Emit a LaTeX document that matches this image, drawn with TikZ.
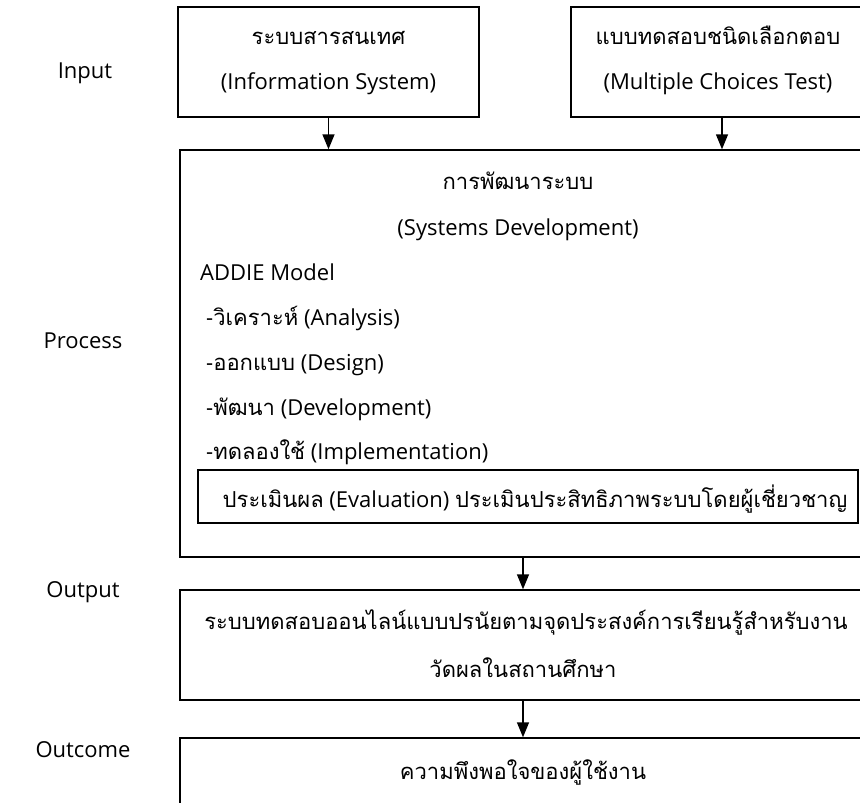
\documentclass[tikz,border=0pt]{standalone}
\usepackage{fontspec}
\setmainfont{Open Sans}
\newfontfamily\thai[Script=Thai]{Loma}
\usetikzlibrary{arrows.meta,positioning}

\tikzset{
	box/.style={draw, line width=1.4pt, rectangle, inner sep=0pt},
	txt/.style={font=\fontsize{22}{26}\selectfont, inner sep=0pt, anchor=base},
	txtl/.style={txt, anchor=base west},
	flow/.style={line width=1.4pt, -{Triangle[width=12pt,length=15pt]}}
}

\begin{document}
\begin{tikzpicture}[x=1pt,y=-1pt]
		\clip (0,0) rectangle (860,803);
		
		% stage names
		\node[txt] (lin) at (85,78) {Input};
		\node[txt] (lpro) at (83,348) {Process};
		\node[txt] (lout) at (83,597) {Output};
		\node[txt] (lres) at (83,757) {Outcome};
		
		% input
		\node[box, minimum width=301pt, minimum height=110pt] (info) at (328.5,62) {};
		\node[txt] (info1) at (328.5,45) {\thai ระบบสารสนเทศ};
		\node[txt] (info2) at (328.5,89) {(Information System)};
		
		\node[box, minimum width=302pt, minimum height=110pt] (mct) at (722,62) {};
		\node[txt] (mct1) at (718,45) {\thai แบบทดสอบชนิดเลือกตอบ};
		\node[txt] (mct2) at (718,89) {(Multiple Choices Test)};
		
		% process
		\node[box, minimum width=686pt, minimum height=407pt] (proc) at (523,353.5) {};
		\node[txt] (pro1) at (518,189) {\thai การพัฒนาระบบ};
		\node[txt] (pro2) at (518,235) {(Systems Development)};
		\node[txtl] (addie) at (200,280) {ADDIE Model};
		\node[txtl] (st1) at (206,325) {-{\thai วิเคราะห์} (Analysis)};
		\node[txtl] (st2) at (206,370) {-{\thai ออกแบบ} (Design)};
		\node[txtl] (st3) at (206,415) {-{\thai พัฒนา} (Development)};
		\node[txtl] (st4) at (206,459) {-{\thai ทดลองใช้} (Implementation)};
		\node[box, minimum width=660pt, minimum height=53pt] (eval) at (528,496.5) {};
		\node[txt] (eval1) at (535,507) {{\thai ประเมินผล} (Evaluation) {\thai ประเมินประสิทธิภาพระบบโดยผู้เชี่ยวชาญ}};
		
		% output
		\node[box, minimum width=686pt, minimum height=110pt] (out) at (523,645) {};
		\node[txt] (out1) at (526,629) {\thai ระบบทดสอบออนไลน์แบบปรนัยตามจุดประสงค์การเรียนรู้สำหรับงาน};
		\node[txt] (out2) at (523,677) {\thai วัดผลในสถานศึกษา};
		
		% outcome
		\node[box, minimum width=686pt, minimum height=70pt] (res) at (523,773) {};
		\node[txt] (res1) at (523,779) {\thai ความพึงพอใจของผู้ใช้งาน};
		
		\draw[flow] (info) -- (info |- proc.north);
		\draw[flow] (mct) -- (mct |- proc.north);
		\draw[flow] (proc) -- (out);
		\draw[flow] (out) -- (res);
		
\end{tikzpicture}
\end{document}
